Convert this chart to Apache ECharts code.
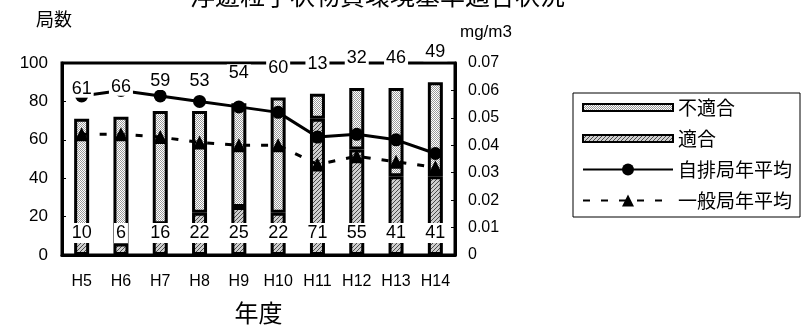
<!DOCTYPE html>
<html>
<head>
<meta charset="utf-8">
<script src="https://cdn.jsdelivr.net/npm/echarts@6/dist/echarts.min.js"></script>
<style>
html,body{margin:0;padding:0;background:#fff;}
#chart{width:805px;height:330px;}
</style>
</head>
<body>
<div id="chart"></div>
<script>
// ---- data ----
var categories = ['H5','H6','H7','H8','H9','H10','H11','H12','H13','H14'];
var tekigou   = [10, 6, 16, 22, 25, 22, 71, 55, 41, 41];      // 適合
var futekigou = [61, 66, 59, 53, 54, 60, 13, 32, 46, 49];     // 不適合
var jihaiAvg  = [0.058, 0.060, 0.058, 0.056, 0.054, 0.052, 0.043, 0.044, 0.042, 0.037]; // 自排局年平均
var ippanAvg  = [0.044, 0.044, 0.043, 0.041, 0.040, 0.040, 0.033, 0.036, 0.034, 0.032]; // 一般局年平均
var leftTicks  = {min: 0, max: 100, interval: 20};
var rightTicks = {min: 0, max: 0.07, interval: 0.01};

// ---- patterns ----
function makePattern(kind) {
  var c = document.createElement('canvas');
  c.width = 4; c.height = 4;
  var ctx = c.getContext('2d');
  ctx.fillStyle = '#ffffff';
  ctx.fillRect(0, 0, 4, 4);
  if (kind === 'dot') {
    ctx.fillStyle = '#9a9a9a';
    ctx.fillRect(0, 0, 1, 1); ctx.fillRect(2, 0, 1, 1);
    ctx.fillRect(1, 1, 1, 1); ctx.fillRect(3, 1, 1, 1);
    ctx.fillRect(0, 2, 1, 1); ctx.fillRect(2, 2, 1, 1);
    ctx.fillRect(1, 3, 1, 1); ctx.fillRect(3, 3, 1, 1);
  } else {
    ctx.fillStyle = '#cfcfcf';
    ctx.fillRect(0, 0, 4, 4);
    ctx.fillStyle = '#4a4a4a';
    ctx.fillRect(3, 0, 1, 1); ctx.fillRect(2, 1, 1, 1);
    ctx.fillRect(1, 2, 1, 1); ctx.fillRect(0, 3, 1, 1);
  }
  return c;
}
var dotFill = {image: makePattern('dot'), repeat: 'repeat'};
var hatchFill = {image: makePattern('hatch'), repeat: 'repeat'};

var FONT = '"Liberation Sans", Arial, "Noto Sans CJK JP", sans-serif';
var CJK = '"Noto Sans CJK JP", "Liberation Sans", sans-serif';
var rectIcon = 'path://M0,0 M0,4 L90,4 L90,11 L0,11 Z M90,15';

var chart = echarts.init(document.getElementById('chart'), null, {renderer: 'canvas'});
var barW = 15;
var option = {
  backgroundColor: '#fff',
  animation: false,
  textStyle: {fontFamily: FONT, color: '#000'},
  title: {
    text: '浮遊粒子状物質環境基準適合状況',
    left: 185, top: -22,
    textStyle: {fontFamily: CJK, fontSize: 25, fontWeight: 'normal', color: '#000'}
  },
  legend: {
    orient: 'vertical',
    left: 573, top: 93,
    data: [
      {name: '不適合', icon: rectIcon},
      {name: '適合', icon: rectIcon},
      {name: '自排局年平均'},
      {name: '一般局年平均'}
    ],
    itemWidth: 90, itemHeight: 15, itemGap: 12,
    padding: [5, 8, 7, 9],
    borderColor: '#000', borderWidth: 1,
    textStyle: {fontFamily: CJK, fontSize: 19, color: '#000'},
    selectedMode: false
  },
  grid: {
    left: 62, right: 350, top: 63, bottom: 74,
    show: true, borderColor: '#000', borderWidth: 3, backgroundColor: 'transparent'
  },
  xAxis: {
    type: 'category',
    data: categories,
    name: '年度', nameLocation: 'middle', nameGap: 46,
    nameTextStyle: {fontFamily: CJK, fontSize: 24, color: '#000'},
    axisLine: {lineStyle: {color: '#000', width: 3}},
    axisTick: {inside: true, length: 5, lineStyle: {color: '#000', width: 1}},
    axisLabel: {interval: 0, fontSize: 16, color: '#000', margin: 19, fontFamily: FONT}
  },
  yAxis: [{
    type: 'value', min: leftTicks.min, max: leftTicks.max, interval: leftTicks.interval,
    name: '局数', nameLocation: 'end', nameGap: 35,
    nameTextStyle: {fontFamily: CJK, fontSize: 18, color: '#000', align: 'right', padding: [0, -10, 0, 0]},
    axisLine: {show: true, lineStyle: {color: '#000', width: 3}},
    axisTick: {show: true, inside: true, length: 4, lineStyle: {color: '#000'}},
    axisLabel: {fontSize: 17, color: '#000', margin: 14, fontFamily: FONT},
    splitLine: {show: false}
  }, {
    type: 'value', min: rightTicks.min, max: rightTicks.max, interval: rightTicks.interval,
    name: 'mg/m3', nameLocation: 'end', nameGap: 22,
    nameTextStyle: {fontFamily: FONT, fontSize: 17, color: '#000', align: 'left', padding: [0, 0, 0, 5]},
    axisLine: {show: true, lineStyle: {color: '#000', width: 3}},
    axisTick: {show: true, inside: true, length: 4, lineStyle: {color: '#000'}},
    axisLabel: {fontSize: 16, color: '#000', margin: 13, fontFamily: FONT,
      formatter: function (v) { return v === 0 ? '0' : v.toFixed(2); }},
    splitLine: {show: false}
  }],
  series: [
    {
      name: '適合', type: 'bar', stack: 'main', data: tekigou, barWidth: barW, barGap: '-100%',
      z: 2, itemStyle: {color: hatchFill, borderColor: '#000', borderWidth: 3},
      emphasis: {disabled: true}
    },
    {
      name: '不適合', type: 'bar', stack: 'main', data: futekigou, barWidth: barW, barGap: '-100%',
      z: 2, itemStyle: {color: dotFill, borderColor: '#000', borderWidth: 3},
      emphasis: {disabled: true}
    },
    {
      name: '自排局年平均', type: 'line', yAxisIndex: 1, data: jihaiAvg, z: 5,
      symbol: 'circle', symbolSize: 13,
      lineStyle: {color: '#000', width: 3},
      itemStyle: {color: '#000'},
      emphasis: {disabled: true}
    },
    {
      name: '一般局年平均', type: 'line', yAxisIndex: 1, data: ippanAvg, z: 5,
      symbol: 'triangle', symbolSize: 14,
      lineStyle: {color: '#000', width: 3, type: [7, 11]},
      itemStyle: {color: '#000'},
      emphasis: {disabled: true}
    },
    {
      name: 'lbl適合', type: 'bar', stack: 'lbl', data: tekigou, barWidth: barW, barGap: '-100%',
      z: 10, silent: true, itemStyle: {color: 'rgba(0,0,0,0)'},
      label: {show: true, position: 'insideBottom', distance: 12, fontSize: 18, color: '#000',
        backgroundColor: '#fff', padding: [1, 2, 1, 2], fontFamily: FONT},
      emphasis: {disabled: true}
    },
    {
      name: 'lbl不適合', type: 'bar', stack: 'lbl', data: futekigou, barWidth: barW, barGap: '-100%',
      z: 10, silent: true, itemStyle: {color: 'rgba(0,0,0,0)'},
      label: {show: true, position: 'top', distance: 21, fontSize: 18, color: '#000',
        backgroundColor: '#fff', padding: [0, 2, 0, 2], fontFamily: FONT},
      emphasis: {disabled: true}
    }
  ]
};
chart.setOption(option);
</script>
</body>
</html>
